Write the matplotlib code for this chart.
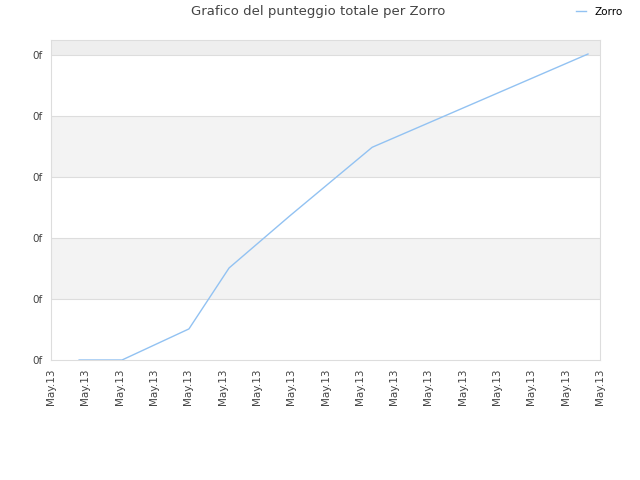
import matplotlib
matplotlib.use("Agg")
import matplotlib.pyplot as plt

# data (x in tick steps, y in gridline steps)
x_vals = [0.82, 2.07, 4.02, 5.19, 6.95, 9.36, 15.65]
y_vals = [0.0, 0.0, 0.51, 1.51, 2.36, 3.49, 5.02]
x_labels = ["May.13"] * 17
y_labels = ["0f"] * 6

fig = plt.figure(figsize=(6.4, 4.8), dpi=100)
ax = fig.add_axes([51 / 640, 120 / 480, 549 / 640, 320 / 480])

ymax = 5.25
# alternating bands
ax.axhspan(5, ymax, color="#eeeeee", zorder=0, lw=0)
ax.axhspan(3, 4, color="#f3f3f3", zorder=0, lw=0)
ax.axhspan(1, 2, color="#f3f3f3", zorder=0, lw=0)
for gy in range(1, 6):
    ax.axhline(gy, color="#dddddd", lw=0.8, zorder=1)

ax.plot(x_vals, y_vals, color="#92c2f2", lw=1.0, label="Zorro", zorder=3)

ax.set_xlim(0, 16)
ax.set_ylim(0, ymax)
ax.set_xticks(range(17))
ax.set_xticklabels(x_labels, rotation=90, fontsize=7.5, color="#444444")
ax.set_yticks(range(6))
ax.set_yticklabels(y_labels, fontsize=7.5, color="#444444")
ax.tick_params(length=0, pad=6)
for s in ax.spines.values():
    s.set_color("#dddddd")
    s.set_linewidth(0.8)

fig.text(0.497, 0.975, "Grafico del punteggio totale per Zorro", ha="center",
         va="center", fontsize=9.5, color="#444444")
fig.legend(loc="upper right", bbox_to_anchor=(0.988, 1.005), frameon=False,
           fontsize=7.5, handlelength=1.0, handletextpad=0.8)

fig.savefig("out.png", dpi=100)
